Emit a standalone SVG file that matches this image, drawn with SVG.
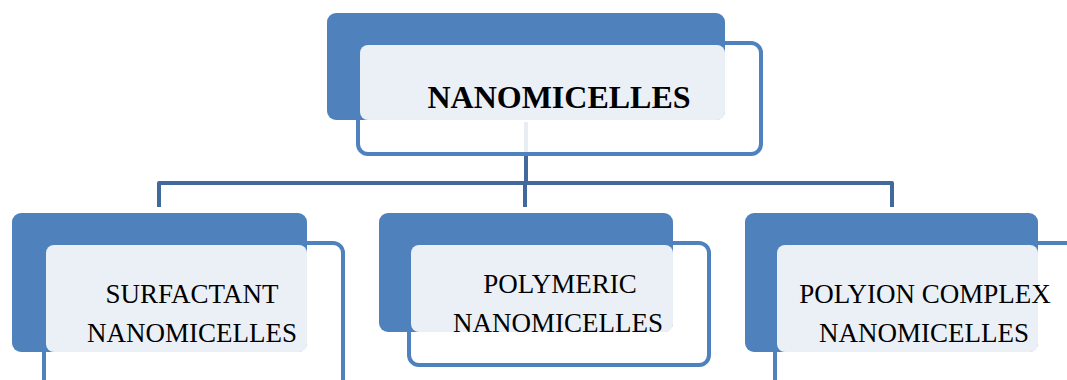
<svg xmlns="http://www.w3.org/2000/svg" width="1067" height="380" viewBox="0 0 1067 380">
  <style>
    .frame { fill: #ffffff; fill-opacity: 0.88; stroke: #4f81bd; stroke-width: 4; }
    .back { fill: #4f81bd; }
    .face { fill: #ebf0f7; }
    .link { fill: none; stroke: #41699b; stroke-width: 4; stroke-linejoin: round; }
    .title { font-family: "Liberation Serif", "Times New Roman", serif; font-size: 32px; font-weight: bold; fill: #000; text-anchor: middle; }
    .label { font-family: "Liberation Serif", "Times New Roman", serif; font-size: 27px; fill: #000; text-anchor: middle; }
  </style>

  <!-- connectors -->
  <g id="connectors">
    <path class="link" d="M526 122 V183"/>
    <path class="link" d="M159 207 V183 H892 V207"/>
    <path class="link" d="M525 183 V207"/>
  </g>

  <!-- root node -->
  <g id="node-nanomicelles">
    <rect class="frame" x="358" y="43" width="403" height="111" rx="10"/>
    <rect class="back" x="327" y="13" width="398" height="107" rx="9"/>
    <rect class="face" x="360" y="45" width="365" height="75" rx="8"/>
    <text class="title" x="559" y="108">NANOMICELLES</text>
  </g>

  <!-- surfactant -->
  <g id="node-surfactant">
    <rect class="frame" x="44" y="243" width="299" height="150" rx="10"/>
    <rect class="back" x="12" y="213" width="295" height="139" rx="9"/>
    <rect class="face" x="46" y="245" width="261" height="107" rx="8"/>
    <text class="label" x="192" y="303">SURFACTANT</text>
    <text class="label" x="192" y="342">NANOMICELLES</text>
  </g>

  <!-- polymeric -->
  <g id="node-polymeric">
    <rect class="frame" x="409" y="243" width="300" height="122" rx="10"/>
    <rect class="back" x="379" y="213" width="294" height="119" rx="9"/>
    <rect class="face" x="411" y="245" width="262" height="87" rx="8"/>
    <text class="label" x="560" y="293">POLYMERIC</text>
    <text class="label" x="558" y="332">NANOMICELLES</text>
  </g>

  <!-- polyion complex -->
  <g id="node-polyion">
    <rect class="frame" x="775" y="243" width="310" height="150" rx="10"/>
    <rect class="back" x="745" y="213" width="293" height="139" rx="9"/>
    <rect class="face" x="777" y="245" width="261" height="107" rx="8"/>
    <text class="label" x="925" y="303">POLYION COMPLEX</text>
    <text class="label" x="924" y="342">NANOMICELLES</text>
  </g>
</svg>
